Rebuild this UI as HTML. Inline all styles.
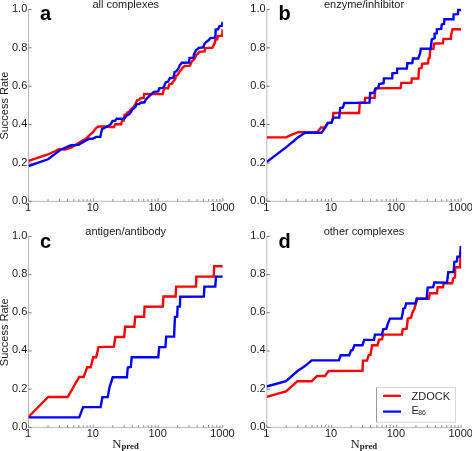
<!DOCTYPE html><html><head><meta charset="utf-8"><style>html,body{margin:0;padding:0;background:#fff;}svg{display:block;}text{font-family:"Liberation Sans",sans-serif;}svg{will-change:transform;}</style></head><body>
<svg width="472" height="451" viewBox="0 0 472 451">
<rect x="0" y="0" width="472" height="451" fill="#fff"/>
<line x1="28.5" y1="9.45" x2="28.5" y2="201.3" stroke="#b9b9b9" stroke-width="1"/>
<line x1="28.5" y1="201.3" x2="222.9" y2="201.3" stroke="#b9b9b9" stroke-width="1"/>
<line x1="28.5" y1="201.3" x2="31.5" y2="201.3" stroke="#777" stroke-width="1"/>
<text x="27.3" y="204" font-size="11" fill="#1c1c1c" text-anchor="end">0.0</text>
<line x1="28.5" y1="162.93" x2="31.5" y2="162.93" stroke="#777" stroke-width="1"/>
<text x="27.3" y="165.63" font-size="11" fill="#1c1c1c" text-anchor="end">0.2</text>
<line x1="28.5" y1="124.56" x2="31.5" y2="124.56" stroke="#777" stroke-width="1"/>
<text x="27.3" y="127.26" font-size="11" fill="#1c1c1c" text-anchor="end">0.4</text>
<line x1="28.5" y1="86.19" x2="31.5" y2="86.19" stroke="#777" stroke-width="1"/>
<text x="27.3" y="88.89" font-size="11" fill="#1c1c1c" text-anchor="end">0.6</text>
<line x1="28.5" y1="47.82" x2="31.5" y2="47.82" stroke="#777" stroke-width="1"/>
<text x="27.3" y="50.52" font-size="11" fill="#1c1c1c" text-anchor="end">0.8</text>
<line x1="28.5" y1="9.45" x2="31.5" y2="9.45" stroke="#777" stroke-width="1"/>
<text x="27.3" y="12.15" font-size="11" fill="#1c1c1c" text-anchor="end">1.0</text>
<line x1="28.5" y1="201.3" x2="28.5" y2="198" stroke="#777" stroke-width="0.8"/>
<line x1="48.01" y1="201.3" x2="48.01" y2="199" stroke="#777" stroke-width="0.8"/>
<line x1="59.42" y1="201.3" x2="59.42" y2="199" stroke="#777" stroke-width="0.8"/>
<line x1="67.51" y1="201.3" x2="67.51" y2="199" stroke="#777" stroke-width="0.8"/>
<line x1="73.79" y1="201.3" x2="73.79" y2="199" stroke="#777" stroke-width="0.8"/>
<line x1="78.92" y1="201.3" x2="78.92" y2="199" stroke="#777" stroke-width="0.8"/>
<line x1="83.26" y1="201.3" x2="83.26" y2="199" stroke="#777" stroke-width="0.8"/>
<line x1="87.02" y1="201.3" x2="87.02" y2="199" stroke="#777" stroke-width="0.8"/>
<line x1="90.33" y1="201.3" x2="90.33" y2="199" stroke="#777" stroke-width="0.8"/>
<line x1="93.3" y1="201.3" x2="93.3" y2="198" stroke="#777" stroke-width="0.8"/>
<line x1="112.81" y1="201.3" x2="112.81" y2="199" stroke="#777" stroke-width="0.8"/>
<line x1="124.22" y1="201.3" x2="124.22" y2="199" stroke="#777" stroke-width="0.8"/>
<line x1="132.31" y1="201.3" x2="132.31" y2="199" stroke="#777" stroke-width="0.8"/>
<line x1="138.59" y1="201.3" x2="138.59" y2="199" stroke="#777" stroke-width="0.8"/>
<line x1="143.72" y1="201.3" x2="143.72" y2="199" stroke="#777" stroke-width="0.8"/>
<line x1="148.06" y1="201.3" x2="148.06" y2="199" stroke="#777" stroke-width="0.8"/>
<line x1="151.82" y1="201.3" x2="151.82" y2="199" stroke="#777" stroke-width="0.8"/>
<line x1="155.13" y1="201.3" x2="155.13" y2="199" stroke="#777" stroke-width="0.8"/>
<line x1="158.1" y1="201.3" x2="158.1" y2="198" stroke="#777" stroke-width="0.8"/>
<line x1="177.61" y1="201.3" x2="177.61" y2="199" stroke="#777" stroke-width="0.8"/>
<line x1="189.02" y1="201.3" x2="189.02" y2="199" stroke="#777" stroke-width="0.8"/>
<line x1="197.11" y1="201.3" x2="197.11" y2="199" stroke="#777" stroke-width="0.8"/>
<line x1="203.39" y1="201.3" x2="203.39" y2="199" stroke="#777" stroke-width="0.8"/>
<line x1="208.52" y1="201.3" x2="208.52" y2="199" stroke="#777" stroke-width="0.8"/>
<line x1="212.86" y1="201.3" x2="212.86" y2="199" stroke="#777" stroke-width="0.8"/>
<line x1="216.62" y1="201.3" x2="216.62" y2="199" stroke="#777" stroke-width="0.8"/>
<line x1="219.93" y1="201.3" x2="219.93" y2="199" stroke="#777" stroke-width="0.8"/>
<line x1="222.9" y1="201.3" x2="222.9" y2="198" stroke="#777" stroke-width="0.8"/>
<text x="28" y="210.5" font-size="11" fill="#1c1c1c" text-anchor="middle">1</text>
<text x="92.8" y="210.5" font-size="11" fill="#1c1c1c" text-anchor="middle">10</text>
<text x="157.6" y="210.5" font-size="11" fill="#1c1c1c" text-anchor="middle">100</text>
<text x="222.4" y="210.5" font-size="11" fill="#1c1c1c" text-anchor="middle">1000</text>
<text x="125.7" y="8.45" font-size="11" fill="#1c1c1c" text-anchor="middle">all complexes</text>
<text x="40.1" y="19.85" font-size="20" font-weight="bold" fill="#000">a</text>
<text x="0" y="0" transform="translate(8.1 105.67) rotate(-90)" font-size="11" fill="#1c1c1c" text-anchor="middle">Success Rate</text>
<clipPath id="clipa"><rect x="28.5" y="6.45" width="194.4" height="194.85"/></clipPath>
<polyline clip-path="url(#clipa)" points="28.5,160.8 48,154.5 59.1,149.1 65.1,149.5 71,147.6 78.4,143.1 85.9,138.8 89.3,135.4 92.7,132.5 95.7,128.6 98.2,126.5 105.4,126.5 109.2,127 113.9,127 115.3,124.3 121.1,124.2 122,120.5 123.7,120.5 124.6,114.7 126.4,114.3 127.3,112.5 129.1,112 130,110.3 131.7,109 133.9,106.7 135.3,104.1 136.6,101.4 137.5,100.1 139.3,99.6 140.2,98.3 143.7,97.9 144.1,94 162.7,94.1 163.6,90.2 164.1,88.2 168.1,88.2 169.4,84.4 171.6,84 173.4,81.3 175.2,79.1 176,76 177.8,74.6 179.6,71.5 181.4,69.8 182.3,68 184.7,66 190,65.6 191.8,61.6 193.1,60.3 194.9,58.1 196.2,55 198,53.6 199.3,51.9 204.6,51.4 205.1,48.3 207.7,47.9 212.2,47.9 213.5,45.6 214.8,43 215.4,39.6 217.3,39.4 217.7,36 222.3,35.8 222.6,29.3" fill="none" stroke="#ff0000" stroke-width="2.4" stroke-linejoin="miter" stroke-linecap="butt"/>
<polyline clip-path="url(#clipa)" points="28.5,166 48,159.3 60.6,149.7 71,145.3 78.4,144.9 85.1,140.9 89.3,138.8 92.7,138.8 96.1,136.9 100.3,136.9 102,129.1 104.6,127.8 107.1,126.5 110.5,124.4 112.6,121 114.9,120.9 116.7,118.7 124.2,118.7 125.5,116.9 127.3,115.2 129.1,114.3 131.3,111.6 132.2,109 133.9,108.5 135.7,106.3 136.6,104.1 139.3,104.1 140.6,102.7 144.6,102.3 145.5,100.1 147.3,97.9 149,96.5 150.3,95 153.9,91.9 158.3,91.5 159.2,88.4 162.7,87.9 164.1,86.2 165.8,82.2 168.1,81.7 169.8,78.2 173.4,77.7 174.7,72 176,71.5 178.3,68.9 180,64.9 181.8,62.7 189.1,62.5 189.5,58.1 193.5,57.6 194,54.1 196.2,50.1 198.9,47.9 203.3,47.4 204.2,44.3 206,42.1 208.6,40.3 210.4,38.1 215.3,37.7 215.7,29.6 218,29.3 219.6,26 222,25.6 222.6,21.7" fill="none" stroke="#0000ff" stroke-width="2.4" stroke-linejoin="miter" stroke-linecap="butt"/>
<line x1="266.8" y1="9.45" x2="266.8" y2="201.3" stroke="#b9b9b9" stroke-width="1"/>
<line x1="266.8" y1="201.3" x2="461.2" y2="201.3" stroke="#b9b9b9" stroke-width="1"/>
<line x1="266.8" y1="201.3" x2="269.8" y2="201.3" stroke="#777" stroke-width="1"/>
<text x="265.6" y="204" font-size="11" fill="#1c1c1c" text-anchor="end">0.0</text>
<line x1="266.8" y1="162.93" x2="269.8" y2="162.93" stroke="#777" stroke-width="1"/>
<text x="265.6" y="165.63" font-size="11" fill="#1c1c1c" text-anchor="end">0.2</text>
<line x1="266.8" y1="124.56" x2="269.8" y2="124.56" stroke="#777" stroke-width="1"/>
<text x="265.6" y="127.26" font-size="11" fill="#1c1c1c" text-anchor="end">0.4</text>
<line x1="266.8" y1="86.19" x2="269.8" y2="86.19" stroke="#777" stroke-width="1"/>
<text x="265.6" y="88.89" font-size="11" fill="#1c1c1c" text-anchor="end">0.6</text>
<line x1="266.8" y1="47.82" x2="269.8" y2="47.82" stroke="#777" stroke-width="1"/>
<text x="265.6" y="50.52" font-size="11" fill="#1c1c1c" text-anchor="end">0.8</text>
<line x1="266.8" y1="9.45" x2="269.8" y2="9.45" stroke="#777" stroke-width="1"/>
<text x="265.6" y="12.15" font-size="11" fill="#1c1c1c" text-anchor="end">1.0</text>
<line x1="266.8" y1="201.3" x2="266.8" y2="198" stroke="#777" stroke-width="0.8"/>
<line x1="286.31" y1="201.3" x2="286.31" y2="199" stroke="#777" stroke-width="0.8"/>
<line x1="297.72" y1="201.3" x2="297.72" y2="199" stroke="#777" stroke-width="0.8"/>
<line x1="305.81" y1="201.3" x2="305.81" y2="199" stroke="#777" stroke-width="0.8"/>
<line x1="312.09" y1="201.3" x2="312.09" y2="199" stroke="#777" stroke-width="0.8"/>
<line x1="317.22" y1="201.3" x2="317.22" y2="199" stroke="#777" stroke-width="0.8"/>
<line x1="321.56" y1="201.3" x2="321.56" y2="199" stroke="#777" stroke-width="0.8"/>
<line x1="325.32" y1="201.3" x2="325.32" y2="199" stroke="#777" stroke-width="0.8"/>
<line x1="328.63" y1="201.3" x2="328.63" y2="199" stroke="#777" stroke-width="0.8"/>
<line x1="331.6" y1="201.3" x2="331.6" y2="198" stroke="#777" stroke-width="0.8"/>
<line x1="351.11" y1="201.3" x2="351.11" y2="199" stroke="#777" stroke-width="0.8"/>
<line x1="362.52" y1="201.3" x2="362.52" y2="199" stroke="#777" stroke-width="0.8"/>
<line x1="370.61" y1="201.3" x2="370.61" y2="199" stroke="#777" stroke-width="0.8"/>
<line x1="376.89" y1="201.3" x2="376.89" y2="199" stroke="#777" stroke-width="0.8"/>
<line x1="382.02" y1="201.3" x2="382.02" y2="199" stroke="#777" stroke-width="0.8"/>
<line x1="386.36" y1="201.3" x2="386.36" y2="199" stroke="#777" stroke-width="0.8"/>
<line x1="390.12" y1="201.3" x2="390.12" y2="199" stroke="#777" stroke-width="0.8"/>
<line x1="393.43" y1="201.3" x2="393.43" y2="199" stroke="#777" stroke-width="0.8"/>
<line x1="396.4" y1="201.3" x2="396.4" y2="198" stroke="#777" stroke-width="0.8"/>
<line x1="415.91" y1="201.3" x2="415.91" y2="199" stroke="#777" stroke-width="0.8"/>
<line x1="427.32" y1="201.3" x2="427.32" y2="199" stroke="#777" stroke-width="0.8"/>
<line x1="435.41" y1="201.3" x2="435.41" y2="199" stroke="#777" stroke-width="0.8"/>
<line x1="441.69" y1="201.3" x2="441.69" y2="199" stroke="#777" stroke-width="0.8"/>
<line x1="446.82" y1="201.3" x2="446.82" y2="199" stroke="#777" stroke-width="0.8"/>
<line x1="451.16" y1="201.3" x2="451.16" y2="199" stroke="#777" stroke-width="0.8"/>
<line x1="454.92" y1="201.3" x2="454.92" y2="199" stroke="#777" stroke-width="0.8"/>
<line x1="458.23" y1="201.3" x2="458.23" y2="199" stroke="#777" stroke-width="0.8"/>
<line x1="461.2" y1="201.3" x2="461.2" y2="198" stroke="#777" stroke-width="0.8"/>
<text x="266.3" y="210.5" font-size="11" fill="#1c1c1c" text-anchor="middle">1</text>
<text x="331.1" y="210.5" font-size="11" fill="#1c1c1c" text-anchor="middle">10</text>
<text x="395.9" y="210.5" font-size="11" fill="#1c1c1c" text-anchor="middle">100</text>
<text x="460.7" y="210.5" font-size="11" fill="#1c1c1c" text-anchor="middle">1000</text>
<text x="364" y="8.45" font-size="11" fill="#1c1c1c" text-anchor="middle">enzyme/inhibitor</text>
<text x="278.4" y="19.85" font-size="20" font-weight="bold" fill="#000">b</text>
<clipPath id="clipb"><rect x="266.8" y="6.45" width="194.4" height="194.85"/></clipPath>
<polyline clip-path="url(#clipb)" points="266.8,137.4 286.2,137.4 290.7,135.2 298.1,132.2 317.5,131.9 321,127.4 324.5,127.6 327.8,122.9 331.4,122.9 332.8,118 333.4,113 359.1,113 359.8,102.6 364.6,102.6 365.2,97.9 374.6,97.9 375.4,89.3 376.6,88.3 400.6,88.1 401.3,82.9 411.3,82.9 411.9,78.4 418.4,78.6 419,68.7 421.5,68 422.1,63.8 428,63.3 428.5,58.8 429.6,57.7 430.2,49.4 433.5,48.8 434,43.6 442.9,43.3 443.5,38.9 450.8,38.9 451.3,34.1 452.6,29.3 461,29.3" fill="none" stroke="#ff0000" stroke-width="2.4" stroke-linejoin="miter" stroke-linecap="butt"/>
<polyline clip-path="url(#clipb)" points="266.8,161.9 286,147.4 298.1,137.3 305.5,132.6 321.5,132.7 325,127.9 328,122.9 331.4,122.9 333.6,117.6 339.2,117.6 340.2,108 342.9,107.5 344.4,103 369.5,102.6 370.2,93 373.9,93 375.4,88.5 378.4,87.8 379.1,84.1 383.6,83.3 383.9,78.4 392.2,78.4 392.4,73.4 397,73 397.2,68.6 406.8,68.6 407.4,63.2 412.3,63 412.9,58.5 418.2,58.5 420.2,53.2 420.8,48.7 430.7,48.7 431.8,39.4 434.6,38.3 434.6,33.8 436.8,33.3 436.8,29.4 441.2,28.9 441.8,24.4 444,23.9 444.4,19.3 453.5,19.2 453.6,14.3 457.9,14.2 458.2,10 461,10" fill="none" stroke="#0000ff" stroke-width="2.4" stroke-linejoin="miter" stroke-linecap="butt"/>
<line x1="28.5" y1="236.4" x2="28.5" y2="427.4" stroke="#b9b9b9" stroke-width="1"/>
<line x1="28.5" y1="427.4" x2="222.9" y2="427.4" stroke="#b9b9b9" stroke-width="1"/>
<line x1="28.5" y1="427.4" x2="31.5" y2="427.4" stroke="#777" stroke-width="1"/>
<text x="27.3" y="429.7" font-size="11" fill="#1c1c1c" text-anchor="end">0.0</text>
<line x1="28.5" y1="389.2" x2="31.5" y2="389.2" stroke="#777" stroke-width="1"/>
<text x="27.3" y="391.5" font-size="11" fill="#1c1c1c" text-anchor="end">0.2</text>
<line x1="28.5" y1="351" x2="31.5" y2="351" stroke="#777" stroke-width="1"/>
<text x="27.3" y="353.3" font-size="11" fill="#1c1c1c" text-anchor="end">0.4</text>
<line x1="28.5" y1="312.8" x2="31.5" y2="312.8" stroke="#777" stroke-width="1"/>
<text x="27.3" y="315.1" font-size="11" fill="#1c1c1c" text-anchor="end">0.6</text>
<line x1="28.5" y1="274.6" x2="31.5" y2="274.6" stroke="#777" stroke-width="1"/>
<text x="27.3" y="276.9" font-size="11" fill="#1c1c1c" text-anchor="end">0.8</text>
<line x1="28.5" y1="236.4" x2="31.5" y2="236.4" stroke="#777" stroke-width="1"/>
<text x="27.3" y="238.7" font-size="11" fill="#1c1c1c" text-anchor="end">1.0</text>
<line x1="28.5" y1="427.4" x2="28.5" y2="424.8" stroke="#777" stroke-width="0.8"/>
<line x1="48.01" y1="427.4" x2="48.01" y2="425.1" stroke="#777" stroke-width="0.8"/>
<line x1="59.42" y1="427.4" x2="59.42" y2="425.1" stroke="#777" stroke-width="0.8"/>
<line x1="67.51" y1="427.4" x2="67.51" y2="425.1" stroke="#777" stroke-width="0.8"/>
<line x1="73.79" y1="427.4" x2="73.79" y2="425.1" stroke="#777" stroke-width="0.8"/>
<line x1="78.92" y1="427.4" x2="78.92" y2="425.1" stroke="#777" stroke-width="0.8"/>
<line x1="83.26" y1="427.4" x2="83.26" y2="425.1" stroke="#777" stroke-width="0.8"/>
<line x1="87.02" y1="427.4" x2="87.02" y2="425.1" stroke="#777" stroke-width="0.8"/>
<line x1="90.33" y1="427.4" x2="90.33" y2="425.1" stroke="#777" stroke-width="0.8"/>
<line x1="93.3" y1="427.4" x2="93.3" y2="424.8" stroke="#777" stroke-width="0.8"/>
<line x1="112.81" y1="427.4" x2="112.81" y2="425.1" stroke="#777" stroke-width="0.8"/>
<line x1="124.22" y1="427.4" x2="124.22" y2="425.1" stroke="#777" stroke-width="0.8"/>
<line x1="132.31" y1="427.4" x2="132.31" y2="425.1" stroke="#777" stroke-width="0.8"/>
<line x1="138.59" y1="427.4" x2="138.59" y2="425.1" stroke="#777" stroke-width="0.8"/>
<line x1="143.72" y1="427.4" x2="143.72" y2="425.1" stroke="#777" stroke-width="0.8"/>
<line x1="148.06" y1="427.4" x2="148.06" y2="425.1" stroke="#777" stroke-width="0.8"/>
<line x1="151.82" y1="427.4" x2="151.82" y2="425.1" stroke="#777" stroke-width="0.8"/>
<line x1="155.13" y1="427.4" x2="155.13" y2="425.1" stroke="#777" stroke-width="0.8"/>
<line x1="158.1" y1="427.4" x2="158.1" y2="424.8" stroke="#777" stroke-width="0.8"/>
<line x1="177.61" y1="427.4" x2="177.61" y2="425.1" stroke="#777" stroke-width="0.8"/>
<line x1="189.02" y1="427.4" x2="189.02" y2="425.1" stroke="#777" stroke-width="0.8"/>
<line x1="197.11" y1="427.4" x2="197.11" y2="425.1" stroke="#777" stroke-width="0.8"/>
<line x1="203.39" y1="427.4" x2="203.39" y2="425.1" stroke="#777" stroke-width="0.8"/>
<line x1="208.52" y1="427.4" x2="208.52" y2="425.1" stroke="#777" stroke-width="0.8"/>
<line x1="212.86" y1="427.4" x2="212.86" y2="425.1" stroke="#777" stroke-width="0.8"/>
<line x1="216.62" y1="427.4" x2="216.62" y2="425.1" stroke="#777" stroke-width="0.8"/>
<line x1="219.93" y1="427.4" x2="219.93" y2="425.1" stroke="#777" stroke-width="0.8"/>
<line x1="222.9" y1="427.4" x2="222.9" y2="424.8" stroke="#777" stroke-width="0.8"/>
<text x="28" y="437.3" font-size="11" fill="#1c1c1c" text-anchor="middle">1</text>
<text x="92.8" y="437.3" font-size="11" fill="#1c1c1c" text-anchor="middle">10</text>
<text x="157.6" y="437.3" font-size="11" fill="#1c1c1c" text-anchor="middle">100</text>
<text x="222.4" y="437.3" font-size="11" fill="#1c1c1c" text-anchor="middle">1000</text>
<text x="125.7" y="235.4" font-size="11" fill="#1c1c1c" text-anchor="middle">antigen/antibody</text>
<text x="40.1" y="247.7" font-size="20" font-weight="bold" fill="#000">c</text>
<text x="0" y="0" transform="translate(8.1 332.2) rotate(-90)" font-size="11" fill="#1c1c1c" text-anchor="middle">Success Rate</text>
<text x="112.2" y="448.4" fill="#1c1c1c" style="font-family:'Liberation Serif',serif"><tspan font-size="12.8">N</tspan><tspan font-size="8.8" font-weight="bold" dy="0.4">pred</tspan></text>
<clipPath id="clipc"><rect x="28.5" y="233.4" width="194.4" height="194"/></clipPath>
<polyline clip-path="url(#clipc)" points="28.4,417 48.2,397 67.7,397 79.2,377 83.6,377 87.2,367.2 90.7,367.2 93.2,357.2 96.2,357.2 98.5,347.1 113.9,346.6 115.4,337 124.2,337 125.1,326.8 134.3,326.8 135.2,316.7 144.1,316.7 144.6,306.7 162.8,306.5 163.4,296.5 175.6,296.5 176.1,286.6 196,286.6 196.4,276.6 213.7,276.6 214.2,266.2 222.7,266.2" fill="none" stroke="#ff0000" stroke-width="2.4" stroke-linejoin="miter" stroke-linecap="butt"/>
<polyline clip-path="url(#clipc)" points="28.4,417.4 79.2,417.4 83.1,407.1 100.6,407.1 102.4,397.1 107.7,397.1 109.5,387.5 112.7,377.3 126.9,377.3 127.8,367.5 130.8,367 131.7,357.2 158.3,357.2 159.2,347.1 165.4,347.1 166.2,336.6 174.1,336.6 174.5,326.6 175,316.8 177.2,316.6 177.6,306.8 179.9,306.5 180.2,296.7 203.8,296.5 204.4,286.6 215.3,286.6 216,276.6 222.7,276.6" fill="none" stroke="#0000ff" stroke-width="2.4" stroke-linejoin="miter" stroke-linecap="butt"/>
<line x1="266.8" y1="236.4" x2="266.8" y2="427.4" stroke="#b9b9b9" stroke-width="1"/>
<line x1="266.8" y1="427.4" x2="461.2" y2="427.4" stroke="#b9b9b9" stroke-width="1"/>
<line x1="266.8" y1="427.4" x2="269.8" y2="427.4" stroke="#777" stroke-width="1"/>
<text x="265.6" y="429.7" font-size="11" fill="#1c1c1c" text-anchor="end">0.0</text>
<line x1="266.8" y1="389.2" x2="269.8" y2="389.2" stroke="#777" stroke-width="1"/>
<text x="265.6" y="391.5" font-size="11" fill="#1c1c1c" text-anchor="end">0.2</text>
<line x1="266.8" y1="351" x2="269.8" y2="351" stroke="#777" stroke-width="1"/>
<text x="265.6" y="353.3" font-size="11" fill="#1c1c1c" text-anchor="end">0.4</text>
<line x1="266.8" y1="312.8" x2="269.8" y2="312.8" stroke="#777" stroke-width="1"/>
<text x="265.6" y="315.1" font-size="11" fill="#1c1c1c" text-anchor="end">0.6</text>
<line x1="266.8" y1="274.6" x2="269.8" y2="274.6" stroke="#777" stroke-width="1"/>
<text x="265.6" y="276.9" font-size="11" fill="#1c1c1c" text-anchor="end">0.8</text>
<line x1="266.8" y1="236.4" x2="269.8" y2="236.4" stroke="#777" stroke-width="1"/>
<text x="265.6" y="238.7" font-size="11" fill="#1c1c1c" text-anchor="end">1.0</text>
<line x1="266.8" y1="427.4" x2="266.8" y2="424.8" stroke="#777" stroke-width="0.8"/>
<line x1="286.31" y1="427.4" x2="286.31" y2="425.1" stroke="#777" stroke-width="0.8"/>
<line x1="297.72" y1="427.4" x2="297.72" y2="425.1" stroke="#777" stroke-width="0.8"/>
<line x1="305.81" y1="427.4" x2="305.81" y2="425.1" stroke="#777" stroke-width="0.8"/>
<line x1="312.09" y1="427.4" x2="312.09" y2="425.1" stroke="#777" stroke-width="0.8"/>
<line x1="317.22" y1="427.4" x2="317.22" y2="425.1" stroke="#777" stroke-width="0.8"/>
<line x1="321.56" y1="427.4" x2="321.56" y2="425.1" stroke="#777" stroke-width="0.8"/>
<line x1="325.32" y1="427.4" x2="325.32" y2="425.1" stroke="#777" stroke-width="0.8"/>
<line x1="328.63" y1="427.4" x2="328.63" y2="425.1" stroke="#777" stroke-width="0.8"/>
<line x1="331.6" y1="427.4" x2="331.6" y2="424.8" stroke="#777" stroke-width="0.8"/>
<line x1="351.11" y1="427.4" x2="351.11" y2="425.1" stroke="#777" stroke-width="0.8"/>
<line x1="362.52" y1="427.4" x2="362.52" y2="425.1" stroke="#777" stroke-width="0.8"/>
<line x1="370.61" y1="427.4" x2="370.61" y2="425.1" stroke="#777" stroke-width="0.8"/>
<line x1="376.89" y1="427.4" x2="376.89" y2="425.1" stroke="#777" stroke-width="0.8"/>
<line x1="382.02" y1="427.4" x2="382.02" y2="425.1" stroke="#777" stroke-width="0.8"/>
<line x1="386.36" y1="427.4" x2="386.36" y2="425.1" stroke="#777" stroke-width="0.8"/>
<line x1="390.12" y1="427.4" x2="390.12" y2="425.1" stroke="#777" stroke-width="0.8"/>
<line x1="393.43" y1="427.4" x2="393.43" y2="425.1" stroke="#777" stroke-width="0.8"/>
<line x1="396.4" y1="427.4" x2="396.4" y2="424.8" stroke="#777" stroke-width="0.8"/>
<line x1="415.91" y1="427.4" x2="415.91" y2="425.1" stroke="#777" stroke-width="0.8"/>
<line x1="427.32" y1="427.4" x2="427.32" y2="425.1" stroke="#777" stroke-width="0.8"/>
<line x1="435.41" y1="427.4" x2="435.41" y2="425.1" stroke="#777" stroke-width="0.8"/>
<line x1="441.69" y1="427.4" x2="441.69" y2="425.1" stroke="#777" stroke-width="0.8"/>
<line x1="446.82" y1="427.4" x2="446.82" y2="425.1" stroke="#777" stroke-width="0.8"/>
<line x1="451.16" y1="427.4" x2="451.16" y2="425.1" stroke="#777" stroke-width="0.8"/>
<line x1="454.92" y1="427.4" x2="454.92" y2="425.1" stroke="#777" stroke-width="0.8"/>
<line x1="458.23" y1="427.4" x2="458.23" y2="425.1" stroke="#777" stroke-width="0.8"/>
<line x1="461.2" y1="427.4" x2="461.2" y2="424.8" stroke="#777" stroke-width="0.8"/>
<text x="266.3" y="437.3" font-size="11" fill="#1c1c1c" text-anchor="middle">1</text>
<text x="331.1" y="437.3" font-size="11" fill="#1c1c1c" text-anchor="middle">10</text>
<text x="395.9" y="437.3" font-size="11" fill="#1c1c1c" text-anchor="middle">100</text>
<text x="460.7" y="437.3" font-size="11" fill="#1c1c1c" text-anchor="middle">1000</text>
<text x="364" y="235.4" font-size="11" fill="#1c1c1c" text-anchor="middle">other complexes</text>
<text x="278.4" y="247.7" font-size="20" font-weight="bold" fill="#000">d</text>
<text x="350.5" y="448.4" fill="#1c1c1c" style="font-family:'Liberation Serif',serif"><tspan font-size="12.8">N</tspan><tspan font-size="8.8" font-weight="bold" dy="0.4">pred</tspan></text>
<clipPath id="clipd"><rect x="266.8" y="233.4" width="194.4" height="194"/></clipPath>
<polyline clip-path="url(#clipd)" points="266.6,396.8 286,391.4 297.5,381.2 311.7,381.2 317,376 325,376 328.5,371 362.5,370.9 363,360.6 366.9,360.6 368.7,355.3 370.4,354.9 372.2,345.2 377.5,345.2 379,339.9 382,339.3 383.2,334.6 402,334.6 402.7,329.2 406.6,328.6 407.8,318.6 411.1,317.5 412.2,313.1 414.4,308.7 416,303.1 417.3,298.7 428.8,298.7 430,293.2 437,293.2 437.7,287.2 443,287.2 443.7,283.3 452.3,283.3 453,278.6 455,277.3 455.2,267.3 460,267.3 460.8,252" fill="none" stroke="#ff0000" stroke-width="2.4" stroke-linejoin="miter" stroke-linecap="butt"/>
<polyline clip-path="url(#clipd)" points="266.6,386.5 286,381.2 297.5,371 304.6,366.3 311.7,360.4 338.9,360.3 340.7,355.3 349.2,355.3 351,350.5 352.7,350 354.5,345.2 362.5,345.2 364.2,339.9 374,339.9 374.9,334.6 382,334.6 383.2,329.2 386.4,328.7 387.8,323.9 389.9,318.6 401.5,318.6 402.7,313.3 403.2,308.9 405,308 406.2,303.5 415.5,303.3 416.6,298.7 426.6,298.7 427.7,287.6 433.2,287.2 434.3,282.5 447,282.6 447.6,277.9 448.3,272.2 453.6,271.9 454.3,262 457,261.3 457.4,256.6 460,256.6 460.8,246" fill="none" stroke="#0000ff" stroke-width="2.4" stroke-linejoin="miter" stroke-linecap="butt"/>
<rect x="376.5" y="387.5" width="79" height="34.7" fill="#fff" stroke="#dadada" stroke-width="1"/>
<line x1="376.5" y1="387.5" x2="376.5" y2="422.2" stroke="#9a9a9a" stroke-width="1"/>
<line x1="383" y1="395.8" x2="401" y2="395.8" stroke="#ff0000" stroke-width="2.2"/>
<line x1="383" y1="411.6" x2="401" y2="411.6" stroke="#0000ff" stroke-width="2.2"/>
<text x="411.5" y="399.5" font-size="11" fill="#1c1c1c">ZDOCK</text>
<text x="411.5" y="413.9" font-size="11" fill="#1c1c1c">E<tspan font-size="6.9" dx="-0.6" dy="1.3">86</tspan></text>
</svg></body></html>
